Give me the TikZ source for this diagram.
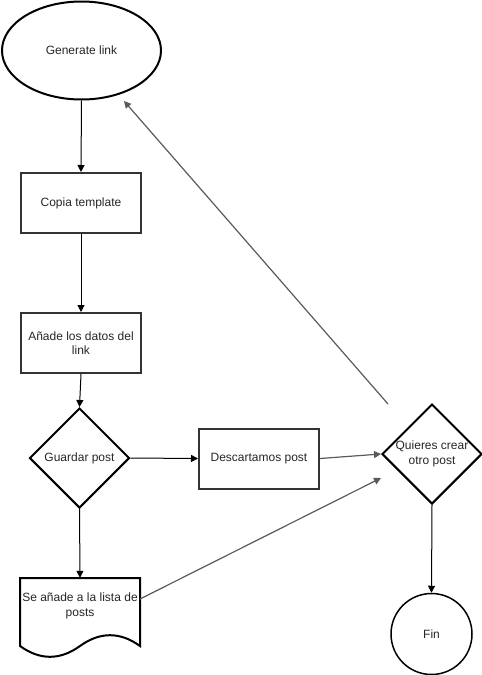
\documentclass[tikz,border=0pt]{standalone}
\usepackage{fontspec}
\setmainfont{Liberation Sans}
\usetikzlibrary{shapes.geometric,arrows.meta}
\definecolor{boxline}{HTML}{333333}
\definecolor{grayline}{HTML}{5A5A5A}
\begin{document}
\begin{tikzpicture}[x=1pt,y=-1pt,
  every node/.style={font=\fontsize{12}{14.5}\selectfont, text=black!85, inner sep=0pt, align=center},
  procbox/.style={draw=boxline, line width=2pt, minimum width=120pt, minimum height=60pt},
  decision/.style={draw=black, line width=2pt, diamond, minimum width=100pt, minimum height=100pt, aspect=1},
  flow/.style={draw=black, line width=1pt, -{Triangle[length=7pt,width=7pt]}},
  grayflow/.style={draw=grayline, line width=1.2pt, -{Triangle[length=7pt,width=7pt]}}]
\useasboundingbox (0,0) rectangle (482,675);
\node[draw=black, line width=2pt, ellipse, minimum width=159pt, minimum height=98pt] (gen) at (81.5,50.5) {Generate link};
\node[procbox] (copia) at (81,203) {Copia template};
\node[procbox] (anade) at (81,343) {Añade los datos del\\link};
\node[decision] (guardar) at (79.5,458) {Guardar post};
\node[procbox] (desc) at (259,458.5) {Descartamos post};
\node[decision] (quieres) at (432,454) {Quieres crear\\otro post};
\node[draw=black, line width=1.5pt, circle, minimum size=81pt] (fin) at (431.5,634) {Fin};
% document shape
\draw[draw=black, line width=2pt, fill=white] (20,578) -- (140,578) -- (140,646)
  .. controls (120,631.6) and (100,631.6) .. (80,646)
  .. controls (60,660.4) and (40,660.4) .. (20,646) -- cycle;
\node[minimum width=120pt, minimum height=80pt] (docbox) at (80,618) {};
\node (doctext) at (80,606) {Se añade a la lista de\\posts};
\coordinate (docright) at (140,599);
\coordinate (qtop) at (388,404);
\coordinate (qin) at (381,478);
\coordinate (genpt) at (124,101);
% connectors
\draw[flow] (gen.south) -- (copia.north);
\draw[flow] (copia.south) -- (anade.north);
\draw[flow] (anade.south) -- (guardar.north);
\draw[flow] (guardar.east) -- (desc.west);
\draw[flow] (guardar.south) -- (docbox.north);
\draw[grayflow] (desc.east) -- (quieres.west);
\draw[grayflow] (docright) -- (qin);
\draw[grayflow] (qtop) -- (genpt);
\draw[flow] (quieres.south) -- (fin.north);
\end{tikzpicture}
\end{document}
